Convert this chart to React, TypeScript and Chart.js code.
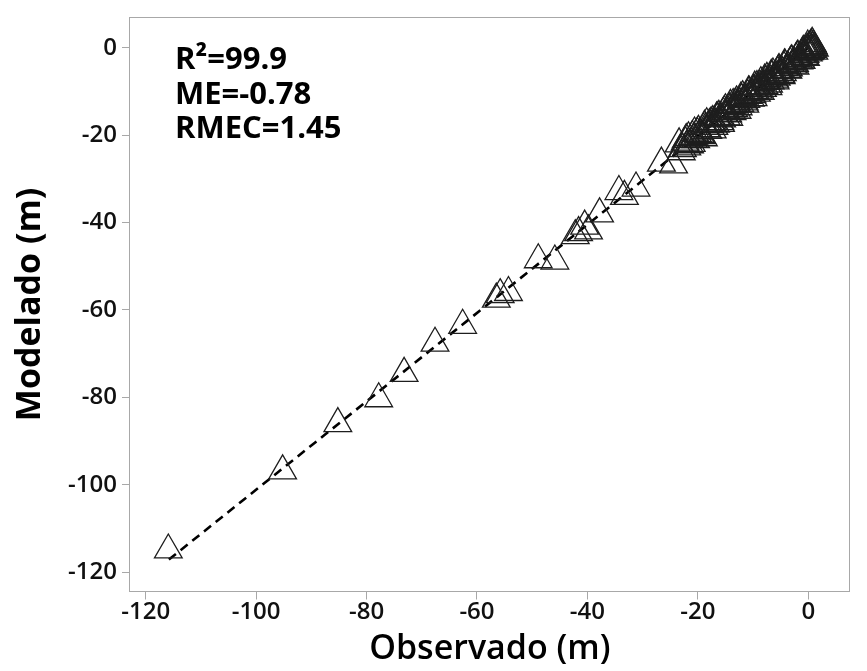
import React, { useEffect, useRef } from "react";
import { Chart, registerables } from "chart.js";

Chart.register(...registerables);

const observed = [
  -115.9, -95.2, -85.2, -77.8, -73.2, -67.6, -62.6, -56.5, -55.8, -54.3,
  -48.9, -45.9, -42.2, -41.6, -40.5, -39.8, -37.8, -34.3, -33.3, -31.2,
  -26.6, -24.4,
  -23.4, -22.8, -22.1, -21.5, -21.0, -20.4, -19.9, -19.3, -18.8, -18.2,
  -17.6, -17.1, -16.5, -16.0, -15.4, -14.9, -14.3, -13.8, -13.2, -12.7,
  -12.1, -11.6, -11.0, -10.5, -9.9, -9.4, -8.8, -8.3, -7.7, -7.2,
  -6.6, -6.1, -5.5, -5.0, -4.4, -3.9, -3.3, -2.8, -2.2, -1.7,
  -1.2, -0.8, -0.4, 0.0, 0.3, 0.6, 0.9, 1.1,
  -22.3, -21.7, -20.8, -20.1, -19.6, -18.6, -17.9, -17.3, -16.8, -16.2,
  -15.7, -15.2, -14.6, -14.1, -13.5, -13.0, -12.4, -11.9, -11.3, -10.8,
  -10.2, -9.7, -9.1, -8.6, -8.0, -7.5, -6.9, -6.4, -5.8, -5.3,
  -4.7, -4.2, -3.6, -3.1, -2.5, -2.0, -1.5, -1.0, -0.6, -0.2,
  0.2, 0.5, 0.8,
  -23.0, -22.0, -21.2, -20.6, -19.0, -18.4, -17.4, -16.6, -15.9, -15.0,
  -14.4, -13.6, -12.9, -12.2, -11.5, -10.7, -10.0, -9.3, -8.7, -7.9,
  -7.3, -6.7, -6.0, -5.4, -4.9, -4.3, -3.7, -3.0, -2.4, -1.9,
  -1.3, -0.9, -0.5, -0.1, 0.4, 0.7, 1.0,
];
const modeled = [
  -114.9, -96.8, -86.0, -80.3, -74.5, -67.6, -63.5, -57.5, -56.5, -56.0,
  -48.5, -48.8, -43.0, -42.3, -40.8, -41.9, -38.0, -32.9, -34.0, -32.1,
  -26.4, -26.8,
  -22.0, -23.1, -21.0, -22.2, -20.3, -21.0, -19.1, -20.1, -18.0, -18.9,
  -17.2, -18.0, -16.0, -16.9, -15.0, -15.8, -14.0, -14.6, -12.9, -13.5,
  -11.9, -12.4, -10.9, -11.5, -9.8, -10.4, -8.8, -9.3, -7.7, -8.3,
  -6.6, -7.2, -5.6, -6.1, -4.5, -5.0, -3.5, -4.0, -2.5, -3.0,
  -1.6, -2.0, -0.8, -1.2, 0.2, -0.4, 0.5, -0.1,
  -21.6, -20.6, -20.9, -19.6, -19.8, -18.5, -17.6, -16.9, -17.5, -15.7,
  -16.3, -14.6, -15.1, -13.2, -13.9, -12.4, -12.8, -11.2, -11.8, -10.1,
  -10.7, -9.0, -9.7, -8.0, -8.7, -7.0, -7.6, -6.0, -6.7, -5.0,
  -5.7, -4.0, -4.6, -3.1, -3.6, -2.1, -2.6, -1.2, -1.5, -0.3,
  -0.9, 0.6, 0.1,
  -23.8, -22.7, -21.9, -19.5, -20.6, -17.4, -18.8, -16.1, -17.3, -14.2,
  -15.9, -13.0, -14.3, -11.5, -12.9, -10.2, -11.4, -8.9, -10.0, -7.4,
  -8.9, -6.3, -7.6, -5.2, -6.4, -3.9, -5.1, -3.0, -4.2, -1.9,
  -2.9, -0.8, -2.2, 0.4, -0.6, 1.0, -0.8,
];

// Fitted line end points
const fitX = [-115.8, 1.1];
const fitY = [-117.1, 1.1];

const xTicks = [-120, -100, -80, -60, -40, -20, 0];
const yTicks = [0, -20, -40, -60, -80, -100, -120];

const statLines = ["R\u00B2=99.9", "ME=-0.78", "RMEC=1.45"];
const xTitle = "Observado (m)";
const yTitle = "Modelado (m)";

const FONT = "'Open Sans', 'Noto Sans', sans-serif";

export default function App() {
  const canvasRef = useRef<HTMLCanvasElement | null>(null);

  useEffect(() => {
    const canvas = canvasRef.current;
    if (!canvas) return;

    const framePlugin = {
      id: "frame",
      afterDraw(chart: any) {
        const { ctx, chartArea } = chart;
        ctx.save();
        ctx.strokeStyle = "#a8a8a8";
        ctx.lineWidth = 1;
        ctx.strokeRect(
          Math.round(chartArea.left) - 0.5,
          Math.round(chartArea.top) + 0.5,
          Math.round(chartArea.right - chartArea.left),
          Math.round(chartArea.bottom - chartArea.top)
        );
        ctx.fillStyle = "#000";
        ctx.font = `bold 31px ${FONT}`;
        ctx.textAlign = "left";
        ctx.textBaseline = "alphabetic";
        const baselines = [69, 103.5, 138];
        statLines.forEach((t, i) => ctx.fillText(t, 175, baselines[i]));
        ctx.restore();
      },
    };

    const points = observed.map((x, i) => ({ x, y: modeled[i] }));
    const fit = fitX.map((x, i) => ({ x, y: fitY[i] }));

    const chart = new Chart(canvas, {
      type: "scatter",
      data: {
        datasets: [
          {
            data: points,
            pointStyle: "triangle",
            pointRadius: 16,
            borderColor: "#1e1e1e",
            borderWidth: 1.3,
            backgroundColor: "rgba(0,0,0,0)",
          } as any,
          {
            type: "line",
            data: fit,
            showLine: true,
            borderColor: "#000",
            borderWidth: 2.6,
            borderDash: [9, 6],
            pointRadius: 0,
            fill: false,
          } as any,
        ],
      },
      options: {
        responsive: false,
        animation: false,
        events: [],
        layout: { padding: { left: 0, right: 4, top: 12, bottom: 0 } },
        plugins: {
          legend: { display: false },
          tooltip: { enabled: false },
        },
        scales: {
          x: {
            type: "linear",
            min: -122.84,
            max: 7.5,
            afterFit(scale: any) {
              scale.height = 79.5;
              scale.paddingLeft = 0;
              scale.paddingRight = 0;
            },
            afterBuildTicks(scale: any) {
              scale.ticks = xTicks.map((v) => ({ value: v }));
            },
            border: { display: false },
            grid: {
              drawOnChartArea: false,
              drawTicks: true,
              tickLength: 8,
              color: "#a8a8a8",
            },
            ticks: {
              color: "#111",
              font: { family: FONT, size: 24, weight: 600 },
              padding: -2,
              maxRotation: 0,
            },
            title: {
              display: true,
              text: xTitle,
              color: "#000",
              font: { family: FONT, size: 34, weight: 600 },
              padding: { top: 0, bottom: 1 },
            },
          },
          y: {
            type: "linear",
            min: -124.4,
            max: 6.96,
            afterFit(scale: any) {
              scale.width = 130;
              scale.paddingTop = 0;
              scale.paddingBottom = 0;
            },
            afterBuildTicks(scale: any) {
              scale.ticks = yTicks.map((v) => ({ value: v }));
            },
            border: { display: false },
            grid: {
              drawOnChartArea: false,
              drawTicks: true,
              tickLength: 8,
              color: "#a8a8a8",
            },
            ticks: {
              color: "#111",
              font: { family: FONT, size: 24, weight: 600 },
              padding: 5,
            },
            title: {
              display: true,
              text: yTitle,
              color: "#000",
              font: { family: FONT, size: 34, weight: "bold" },
              padding: { top: 10, bottom: 0 },
            },
          },
        },
      },
      plugins: [framePlugin],
    });

    return () => chart.destroy();
  }, []);

  return (
    <div
      style={{
        position: "fixed",
        left: 0,
        top: 0,
        width: 867,
        height: 671,
        background: "#fff",
      }}
    >
      <canvas ref={canvasRef} width={867} height={671} style={{ display: "block" }} />
    </div>
  );
}
